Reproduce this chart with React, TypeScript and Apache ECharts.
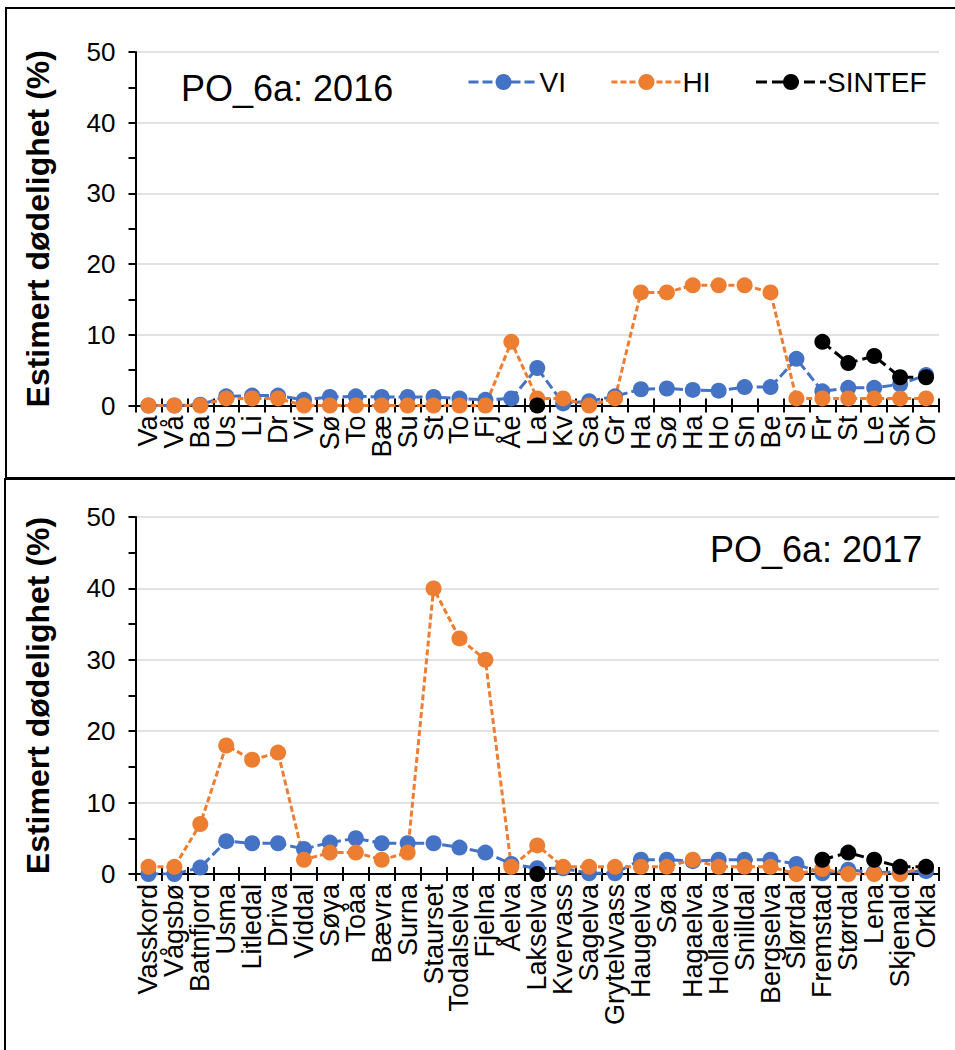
import React, { useEffect, useRef } from "react";
import * as echarts from "echarts";

const cats16 = ["Va","Vå","Ba","Us","Li","Dr","Vi","Sø","To","Bæ","Su","St","To","Fj","Åe","La","Kv","Sa","Gr","Ha","Sø","Ha","Ho","Sn","Be","Sl","Fr","St","Le","Sk","Or"];
const vi16 = [0,0,0.1,1.3,1.4,1.4,0.8,1.2,1.3,1.2,1.2,1.2,1.0,0.8,1.0,5.3,0.3,0.6,1.3,2.3,2.4,2.2,2.1,2.6,2.6,6.6,2.0,2.5,2.5,3.0,4.3];
const hi16 = [0,0,0,1,1,1,0,0,0,0,0,0,0,0,9,1,1,0,1,16,16,17,17,17,16,1,1,1,1,1,1];
const sintef16 = [null,null,null,null,null,null,null,null,null,null,null,null,null,null,null,0,null,null,null,null,null,null,null,null,null,null,9,6,7,4,4];

const cats17 = ["Vasskord","Vågsbø","Batnfjord","Usma","Litledal","Driva","Viddal","Søya","Toåa","Bævra","Surna","Staurset","Todalselva","Fjelna","Åelva","Lakselva","Kvervass","Sagelva","Grytelvvass","Haugelva","Søa","Hagaelva","Hollaelva","Snilldal","Bergselva","Slørdal","Fremstad","Størdal","Lena","Skjenald","Orkla"];
const vi17 = [0,0,0.9,4.6,4.3,4.3,3.5,4.4,5.0,4.3,4.3,4.3,3.7,3.0,1.4,0.8,0.8,0.1,0.1,2.0,2.0,1.8,2.0,2.0,2.0,1.4,0.1,0.6,0.2,0.3,0.4];
const hi17 = [1,1,7,18,16,17,2,3,3,2,3,40,33,30,1,4,1,1,1,1,1,2,1,1,1,0,0.7,0,0,0,1];
const sintef17 = [null,null,null,null,null,null,null,null,null,null,null,null,null,null,null,0,null,null,null,null,null,null,null,null,null,null,2,3,2,1,1];

const yTicks = { min: 0, max: 50, interval: 10 };
const titles = ["PO_6a: 2016", "PO_6a: 2017"];
const yName = "Estimert dødelighet (%)";

const FONT = "Liberation Sans, Arial, sans-serif";
const BLUE = "#4472C4";
const ORANGE = "#ED7D31";

export default function App() {
  const ref = useRef<HTMLDivElement>(null);
  useEffect(() => {
    const chart = echarts.init(ref.current!, null, { renderer: "svg" });
    const grids = [
      { left: 135.5, right: 16, top: 52, height: 353.5 },
      { left: 135.5, right: 16, top: 517, height: 357 },
    ];
    const catSets = [cats16, cats17];
    const xAxes: any[] = [];
    const yAxes: any[] = [];
    grids.forEach((g, i) => {
      xAxes.push({
        type: "category",
        gridIndex: i,
        data: catSets[i],
        boundaryGap: true,
        axisLine: { show: true, lineStyle: { color: "#000", width: 2 } },
        axisTick: { show: true, inside: false, length: 7, lineStyle: { color: "#000", width: 2 }, interval: 0 },
        axisLabel: { interval: 0, rotate: 90, margin: 10, color: "#000", fontSize: 27, fontFamily: FONT },
      });
      xAxes.push({
        type: "category",
        gridIndex: i,
        data: catSets[i],
        position: "bottom",
        boundaryGap: true,
        axisLine: { show: false },
        axisTick: { show: true, inside: true, length: 7, lineStyle: { color: "#000", width: 2 }, interval: 0 },
        axisLabel: { show: false },
      });
      yAxes.push({
        type: "value",
        gridIndex: i,
        ...yTicks,
        name: yName,
        nameLocation: "middle",
        nameGap: 82,
        nameTextStyle: { fontSize: 32, fontWeight: "bold", color: "#000", fontFamily: FONT },
        axisLine: { show: true, lineStyle: { color: "#000", width: 2 } },
        axisTick: { show: true, length: 7, lineStyle: { color: "#000", width: 2 } },
        minorTick: { show: true, splitNumber: 2, length: 7, lineStyle: { color: "#000", width: 2 } },
        splitLine: { show: true, lineStyle: { color: "#d9d9d9", width: 1.5 } },
        axisLabel: { margin: 20, color: "#000", fontSize: 26, fontFamily: FONT },
      });
    });
    const mk = (name: string, color: string, dash: number[], data: any[], idx: number) => ({
      name,
      type: "line",
      xAxisIndex: idx * 2,
      yAxisIndex: idx,
      data,
      connectNulls: false,
      symbol: "circle",
      symbolSize: 16,
      showSymbol: true,
      itemStyle: { color },
      lineStyle: { color, width: 3, type: dash },
    });
    const option: any = {
      animation: false,
      backgroundColor: "#fff",
      grid: grids,
      xAxis: xAxes,
      yAxis: yAxes,
      legend: {
        left: 462,
        top: 63,
        itemWidth: 70,
        itemHeight: 20,
        itemGap: 44,
        lineStyle: { width: 3 },
        textStyle: { fontSize: 28, color: "#000", fontFamily: FONT, padding: [0, 0, 0, -4] },
        data: ["VI", "HI", "SINTEF"],
      },
      title: [
        { text: titles[0], left: 176, top: 65, textStyle: { fontSize: 36, fontWeight: "normal", color: "#000", fontFamily: FONT } },
        { text: titles[1], left: 705, top: 526, textStyle: { fontSize: 36, fontWeight: "normal", color: "#000", fontFamily: FONT } },
      ],
      graphic: [
        { type: "rect", shape: { x: 6, y: 8, width: 1000, height: 470 }, style: { fill: "none", stroke: "#000", lineWidth: 2 }, silent: true },
        { type: "rect", shape: { x: 5, y: 479, width: 1000, height: 600 }, style: { fill: "none", stroke: "#000", lineWidth: 2 }, silent: true },
      ],
      series: [
        mk("VI", BLUE, [10, 4], vi16, 0),
        mk("HI", ORANGE, [6, 3], hi16, 0),
        mk("SINTEF", "#000", [11, 5], sintef16, 0),
        mk("VI", BLUE, [10, 4], vi17, 1),
        mk("HI", ORANGE, [6, 3], hi17, 1),
        mk("SINTEF", "#000", [11, 5], sintef17, 1),
      ],
    };
    chart.setOption(option);
    return () => chart.dispose();
  }, []);
  return <div ref={ref} style={{ position: "absolute", left: 0, top: 0, width: 955, height: 1050 }} />;
}
